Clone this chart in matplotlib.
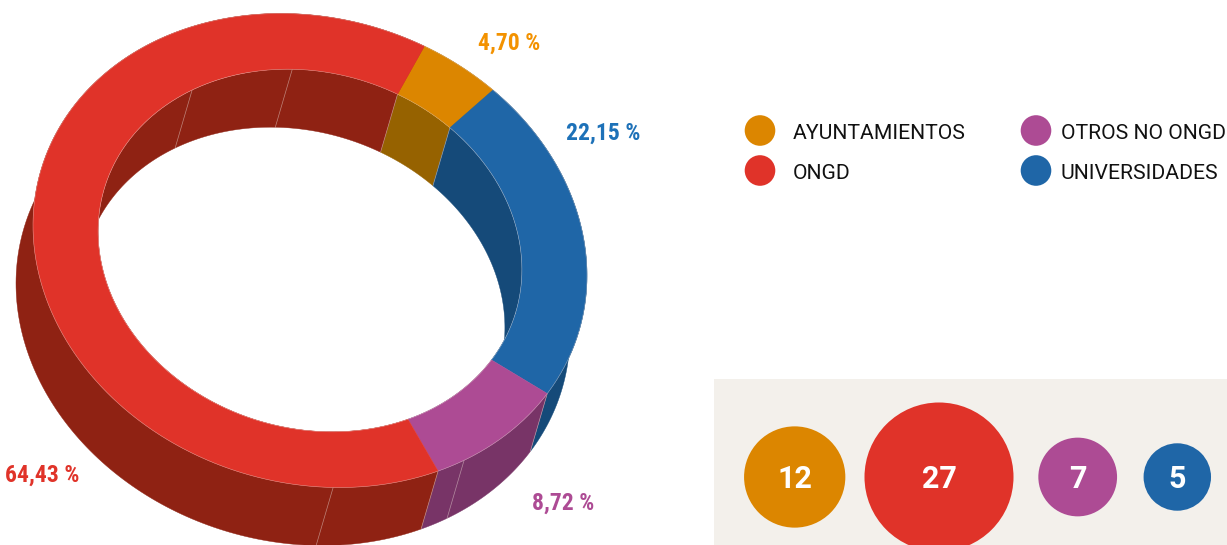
import numpy as np
import matplotlib
matplotlib.use('Agg')
import matplotlib.pyplot as plt
from matplotlib.patches import Polygon, Circle, Rectangle

#dataset
categories = ['AYUNTAMIENTOS', 'UNIVERSIDADES', 'OTROS NO ONGD', 'ONGD']
shares = [4.70, 22.15, 8.72, 64.43]
share_labels = ['4,70 %', '22,15 %', '8,72 %', '64,43 %']
bubble_values = [12, 27, 7, 5]

#colours
top_col = {'AYUNTAMIENTOS': '#DC8600', 'UNIVERSIDADES': '#1F66A7', 'OTROS NO ONGD': '#AD4B94', 'ONGD': '#E03329'}
wall_col = {'AYUNTAMIENTOS': '#966200', 'UNIVERSIDADES': '#154A79', 'OTROS NO ONGD': '#783467', 'ONGD': '#8F2213'}
text_col = {'AYUNTAMIENTOS': '#F39200', 'UNIVERSIDADES': '#1D71B8', 'OTROS NO ONGD': '#AD4B94', 'ONGD': '#E03329'}
seam_col = '#E6D6D0'

#ring geometry, in pixels of the picture
cx, cy = 310, 250.5
a, b = 280.8, 232.5
rot = np.radians(17)
inner = 0.765
depth = np.array([-17, 58])
start = -79.8


def ring_pts(t_deg, scale=1.0, shift=(0, 0)):
    t = np.radians(t_deg)
    x = a * scale * np.cos(t)
    y = b * scale * np.sin(t)
    return np.column_stack([cx + x * np.cos(rot) - y * np.sin(rot) + shift[0],
                            cy + x * np.sin(rot) + y * np.cos(rot) + shift[1]])


def arc(t0, t1, scale=1.0, shift=(0, 0)):
    return ring_pts(np.linspace(t0, t1, 200), scale, shift)


fig = plt.figure(figsize=(12.27, 5.45), dpi=100)
ax = fig.add_axes([0, 0, 1, 1])
ax.set_xlim(0, 1227)
ax.set_ylim(545, 0)
ax.axis('off')

#slice limits come from the shares
edges = start + np.cumsum([0] + shares) * 3.6
slices = [(categories[i], edges[i], edges[i + 1]) for i in range(len(categories))]

#outer walls
for name, t0, t1 in slices:
    pts = np.vstack([arc(t0, t1), arc(t1, t0, 1.0, depth)])
    ax.add_patch(Polygon(pts, closed=True, fc=wall_col[name], ec=wall_col[name], lw=0.3, zorder=1))

#hole, then inner walls clipped to it
hole = Polygon(arc(0, 360, inner), closed=True, fc='white', ec='none', zorder=2)
ax.add_patch(hole)
for name, t0, t1 in slices:
    pts = np.vstack([arc(t0, t1, inner), arc(t1, t0, inner, depth)])
    p = Polygon(pts, closed=True, fc=wall_col[name], ec=wall_col[name], lw=0.3, zorder=3)
    ax.add_patch(p)
    p.set_clip_path(hole)

#thin pale seams on the walls
for t in [edges[3], 42, 71, edges[2], edges[1]]:
    pts = np.vstack([ring_pts(t), ring_pts(t) + depth])
    ax.plot(pts[:, 0], pts[:, 1], color=seam_col, lw=0.5, alpha=0.55, zorder=1.5)
for t in [222, 251, edges[0], edges[1]]:
    pts = np.vstack([ring_pts(t, inner), ring_pts(t, inner) + depth])
    line, = ax.plot(pts[:, 0], pts[:, 1], color=seam_col, lw=0.5, alpha=0.55, zorder=3.5)
    line.set_clip_path(hole)

#top face
for name, t0, t1 in slices:
    pts = np.vstack([arc(t0, t1), arc(t1, t0, inner)])
    ax.add_patch(Polygon(pts, closed=True, fc=top_col[name], ec=top_col[name], lw=0.3, zorder=4))
for s in [1.0, inner]:
    pts = arc(0, 360, s)
    ax.plot(pts[:, 0], pts[:, 1], color=seam_col, lw=0.4, alpha=0.5, zorder=4.5)

#percent labels
label_font = ['Liberation Sans Narrow', 'Roboto Condensed', 'Roboto']
label_xy = [(509.5, 43.5), (603, 133.5), (563, 503.5), (42, 475.5)]
for name, lab, (x, y) in zip(categories, share_labels, label_xy):
    ax.text(x, y, lab, color=text_col[name], fontsize=17, fontweight='bold', family=label_font,
            ha='center', va='center', zorder=6)

#legend
legend_order = ['AYUNTAMIENTOS', 'ONGD', 'OTROS NO ONGD', 'UNIVERSIDADES']
legend_xy = [(760, 130.5), (760, 170.5), (1036, 130.5), (1036, 170.5)]
for name, (x, y) in zip(legend_order, legend_xy):
    ax.add_patch(Circle((x, y), 15.3, fc=top_col[name], ec='none', zorder=5))
    ax.text(x + 33 if x < 900 else x + 25, y + 3, name, color='#111111', fontsize=15.2, family='Roboto',
            ha='left', va='center', zorder=6)

#bubble panel
ax.add_patch(Rectangle((714, 379), 513, 166, fc='#F3F0EB', ec='none', zorder=0))
bubble_order = ['AYUNTAMIENTOS', 'ONGD', 'OTROS NO ONGD', 'UNIVERSIDADES']
bubble_x = [794.7, 939, 1077.7, 1177.3]
for name, v, x in zip(bubble_order, bubble_values, bubble_x):
    r = 2.9 + 13.78 * np.sqrt(v)
    ax.add_patch(Circle((x, 477), r, fc=top_col[name], ec='none', zorder=5))
    ax.text(x, 479, str(v), color='white', fontsize=22, fontweight='bold',
            family='Roboto', ha='center', va='center', zorder=6)

fig.savefig('out.png', dpi=100)
